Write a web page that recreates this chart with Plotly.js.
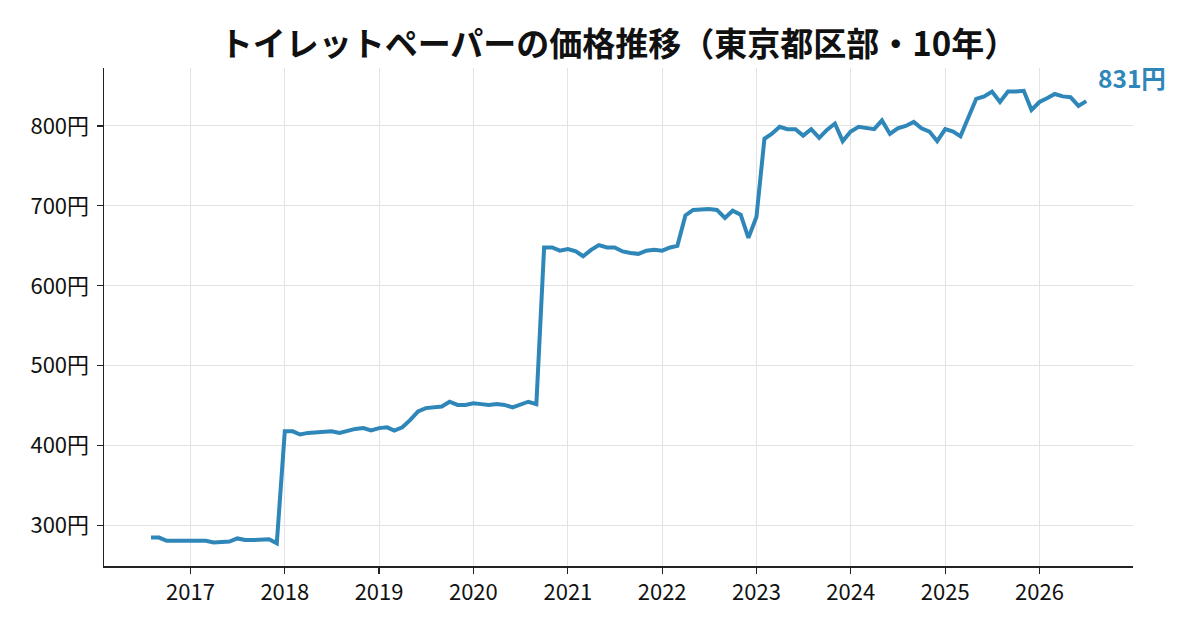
<!DOCTYPE html>
<html>
<head>
<meta charset="utf-8">
<script src="https://cdn.plot.ly/plotly-3.0.1.min.js"></script>
<style>html,body{margin:0;padding:0;background:#fff;}#chart{width:1200px;height:630px;}</style>
</head>
<body>
<div id="chart"></div>
<script>
const months = [
 '2016-08','2016-09','2016-10','2016-11','2016-12',
 '2017-01','2017-02','2017-03','2017-04','2017-05','2017-06','2017-07','2017-08','2017-09','2017-10','2017-11','2017-12',
 '2018-01','2018-02','2018-03','2018-04','2018-05','2018-06','2018-07','2018-08','2018-09','2018-10','2018-11','2018-12',
 '2019-01','2019-02','2019-03','2019-04','2019-05','2019-06','2019-07','2019-08','2019-09','2019-10','2019-11','2019-12',
 '2020-01','2020-02','2020-03','2020-04','2020-05','2020-06','2020-07','2020-08','2020-09','2020-10','2020-11','2020-12',
 '2021-01','2021-02','2021-03','2021-04','2021-05','2021-06','2021-07','2021-08','2021-09','2021-10','2021-11','2021-12',
 '2022-01','2022-02','2022-03','2022-04','2022-05','2022-06','2022-07','2022-08','2022-09','2022-10','2022-11','2022-12',
 '2023-01','2023-02','2023-03','2023-04','2023-05','2023-06','2023-07','2023-08','2023-09','2023-10','2023-11','2023-12',
 '2024-01','2024-02','2024-03','2024-04','2024-05','2024-06','2024-07','2024-08','2024-09','2024-10','2024-11','2024-12',
 '2025-01','2025-02','2025-03','2025-04','2025-05','2025-06','2025-07','2025-08','2025-09','2025-10','2025-11','2025-12',
 '2026-01','2026-02','2026-03','2026-04','2026-05','2026-06','2026-07'
];
const prices = [
 285,285,281,281,281,
 281,280,281,279,279,280,284,282,282,282,283,278,
 418,418,414,416,417,418,418,416,419,421,422,419,
 422,423,419,423,432,443,447,448,449,455,451,451,
 453,452,451,452,451,448,451,455,452,648,648,644,
 646,643,637,645,651,648,648,643,641,640,644,645,
 644,648,650,688,695,696,696,695,685,694,689,660,
 686,784,790,799,796,796,788,796,785,795,803,781,
 793,799,797,796,807,790,797,800,805,797,793,781,
 796,793,787,810,834,837,843,830,843,843,844,820,
 830,835,840,837,836,825,831
];
const yTickVals = [300,400,500,600,700,800];
const yTickText = ['300円','400円','500円','600円','700円','800円'];
const xTickVals = ['2017-01-01','2018-01-01','2019-01-01','2020-01-01','2021-01-01','2022-01-01','2023-01-01','2024-01-01','2025-01-01','2026-01-01'];
const xTickText = ['2017','2018','2019','2020','2021','2022','2023','2024','2025','2026'];
const titleText = 'トイレットペーパーの価格推移（東京都区部・10年）';
const lineColor = '#2e86b9';
const FONT = '"Noto Sans CJK JP", "Noto Sans", sans-serif';

const lastX = months[months.length-1];
const lastY = prices[prices.length-1];

const trace = {
  x: months, y: prices, type: 'scatter', mode: 'lines',
  line: {color: lineColor, width: 4},
  hoverinfo: 'skip'
};

const layout = {
  width: 1200, height: 630,
  margin: {l: 104, r: 67, t: 68, b: 64},
  paper_bgcolor: '#fff', plot_bgcolor: '#fff',
  font: {family: FONT, size: 22, color: '#111'},
  showlegend: false,
  title: {text: '<b>' + titleText + '</b>', font: {family: FONT, size: 33, color: '#111'},
          xref: 'paper', x: 0.5, xanchor: 'center', yref: 'container', y: 0.93, yanchor: 'middle'},
  xaxis: {
    type: 'date', range: ['2016-02-01', '2026-12-29'],
    tickmode: 'array', tickvals: xTickVals, ticktext: xTickText,
    showgrid: true, gridcolor: '#e3e3e3', gridwidth: 1,
    showline: true, linecolor: '#222', linewidth: 1.5,
    ticks: 'outside', ticklen: 6, tickwidth: 1.2, tickcolor: '#222',
    tickfont: {family: FONT, size: 22, color: '#111'},
    zeroline: false, fixedrange: true
  },
  yaxis: {
    range: [249.5, 872.5],
    tickmode: 'array', tickvals: yTickVals, ticktext: yTickText,
    showgrid: true, gridcolor: '#e3e3e3', gridwidth: 1,
    showline: true, linecolor: '#222', linewidth: 1.5,
    ticks: 'outside', ticklen: 6, tickwidth: 1.2, tickcolor: '#222',
    ticklabelstandoff: 3,
    tickfont: {family: FONT, size: 22, color: '#111'},
    zeroline: false, fixedrange: true
  },
  annotations: [{
    x: lastX, y: lastY, xref: 'x', yref: 'y',
    text: '<b>' + lastY + '円</b>', showarrow: false,
    xanchor: 'left', yanchor: 'middle', xshift: 10, yshift: 24,
    font: {family: FONT, size: 24.5, color: lineColor}
  }]
};

Plotly.newPlot('chart', [trace], layout, {displayModeBar: false, staticPlot: true});
</script>
</body>
</html>
